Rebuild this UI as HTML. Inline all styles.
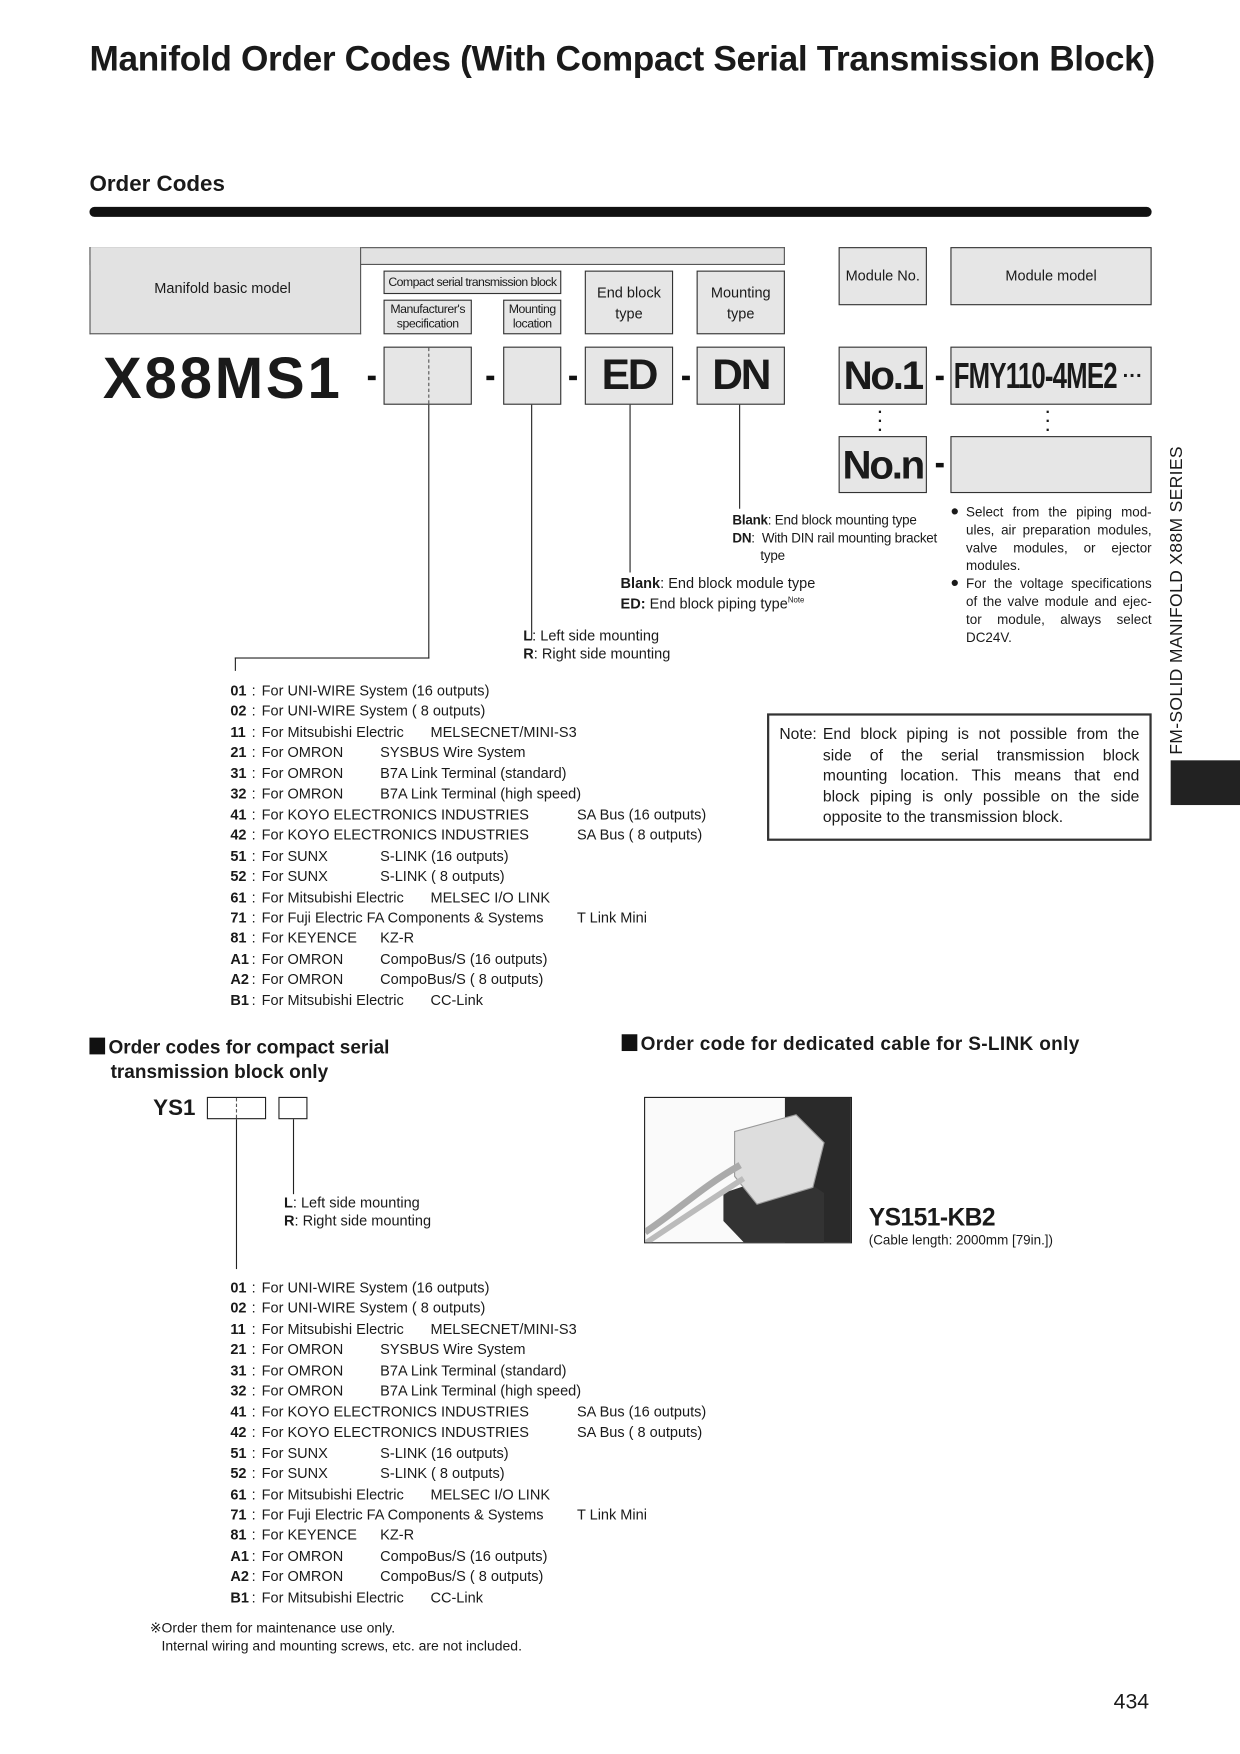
<!DOCTYPE html>
<html><head><meta charset="utf-8"><style>
html,body{margin:0;padding:0;background:#fff;}
body{width:1240px;height:1754px;overflow:hidden;position:relative;}
#c{position:absolute;left:0;top:0;width:1109px;height:1569px;transform:scale(1.11812);transform-origin:0 0;font-family:"Liberation Sans",sans-serif;color:#1a1a1a;}
.a{position:absolute;white-space:nowrap;}
.bx{position:absolute;background:#e6e6e6;border:1px solid #333;box-sizing:border-box;}
.c{display:flex;align-items:center;justify-content:center;text-align:center;}
.vl{position:absolute;width:0;border-left:1px solid #222;}
.hl{position:absolute;height:0;border-top:1px solid #222;}
.big{font-weight:bold;font-size:38px;letter-spacing:-2px;}
.dash{position:absolute;width:7px;height:4px;background:#111;}
.row{position:absolute;font-size:13px;white-space:nowrap;height:18px;}
.row span{position:absolute;top:0;}
.row b{position:absolute;left:0;}
.j{position:absolute;white-space:nowrap;text-align:justify;text-align-last:justify;}
</style></head><body><div id="c">

<div class="a" style="left:80px;top:34px;font-size:31.5px;font-weight:bold;letter-spacing:-0.3px;">Manifold Order Codes (With Compact Serial Transmission Block)</div>
<div class="a" style="left:80px;top:154px;font-size:20px;font-weight:bold;">Order Codes</div>
<div class="a" style="left:80px;top:185px;width:950px;height:9px;background:#111;border-radius:5px;"></div>

<div class="a" style="left:80px;top:221px;width:622px;height:16px;background:#e2e2e2;border:1px solid #555;border-bottom:none;box-sizing:border-box;"></div>
<div class="a" style="left:80px;top:221px;width:243px;height:78px;background:#e2e2e2;border:1px solid #555;border-top:none;box-sizing:border-box;"></div>
<div class="a" style="left:81px;top:222px;width:240px;height:20px;background:#e2e2e2;"></div>
<div class="a" style="left:322px;top:236px;width:380px;height:1px;background:#555;"></div>
<div class="a" style="left:138px;top:250px;font-size:13px;">Manifold basic model</div>

<div class="bx c" style="left:343px;top:242px;width:159px;height:21px;font-size:11px;letter-spacing:-0.5px;">Compact serial transmission block</div>
<div class="bx c" style="left:343px;top:268px;width:79px;height:31px;font-size:11px;line-height:13px;letter-spacing:-0.4px;">Manufacturer's<br>specification</div>
<div class="bx c" style="left:450px;top:268px;width:52px;height:31px;font-size:11px;line-height:13px;letter-spacing:-0.4px;">Mounting<br>location</div>
<div class="bx c" style="left:523px;top:242px;width:79px;height:57px;font-size:13px;line-height:19px;">End block<br>type</div>
<div class="bx c" style="left:623px;top:242px;width:79px;height:57px;font-size:13px;line-height:19px;">Mounting<br>type</div>
<div class="bx" style="left:750px;top:221px;width:79px;height:52px;font-size:13px;text-align:center;padding-top:17px;">Module No.</div>
<div class="bx" style="left:850px;top:221px;width:180px;height:52px;font-size:13px;text-align:center;padding-top:17px;">Module model</div>

<div class="a" style="left:92px;top:309px;font-size:52px;font-weight:bold;letter-spacing:2.5px;">X88MS1</div>
<div class="dash" style="left:329px;top:336px;"></div>
<div class="bx" style="left:343px;top:310px;width:79px;height:52px;"></div>
<div class="a" style="left:383px;top:311px;height:50px;border-left:1px dashed #555;"></div>
<div class="dash" style="left:435px;top:336px;"></div>
<div class="bx" style="left:450px;top:310px;width:52px;height:52px;"></div>
<div class="dash" style="left:509px;top:336px;"></div>
<div class="bx c big" style="left:523px;top:310px;width:79px;height:52px;">ED</div>
<div class="dash" style="left:610px;top:336px;"></div>
<div class="bx c big" style="left:623px;top:310px;width:79px;height:52px;">DN</div>
<div class="bx c big" style="left:750px;top:310px;width:79px;height:52px;font-size:36px;">No.1</div>
<div class="dash" style="left:837px;top:336px;"></div>
<div class="bx" style="left:850px;top:310px;width:180px;height:52px;"></div>
<div class="a" style="left:853px;top:318px;font-weight:bold;font-size:32px;letter-spacing:-1px;transform:scaleX(0.72);transform-origin:0 0;">FMY110-4ME2</div>
<div class="a" style="left:1004px;top:326px;font-size:18px;font-weight:bold;">···</div>
<div class="a" style="left:785px;top:364px;font-size:14px;line-height:8px;font-weight:bold;">·<br>·<br>·</div>
<div class="a" style="left:935px;top:364px;font-size:14px;line-height:8px;font-weight:bold;">·<br>·<br>·</div>
<div class="bx c big" style="left:750px;top:390px;width:79px;height:51px;font-size:36px;">No.n</div>
<div class="dash" style="left:837px;top:414px;"></div>
<div class="bx" style="left:850px;top:390px;width:180px;height:51px;"></div>

<div class="vl" style="left:383px;top:362px;height:227px;"></div>
<div class="hl" style="left:210px;top:588px;width:174px;"></div>
<div class="vl" style="left:210px;top:588px;height:12px;"></div>
<div class="vl" style="left:475px;top:362px;height:210px;"></div>
<div class="vl" style="left:563px;top:362px;height:150px;"></div>
<div class="vl" style="left:661px;top:362px;height:93px;"></div>

<div class="a" style="left:655px;top:457px;font-size:12px;line-height:16px;letter-spacing:-0.2px;"><b>Blank</b>: End block mounting type<br><b>DN</b>:&nbsp; With DIN rail mounting bracket<br>&nbsp;&nbsp;&nbsp;&nbsp;&nbsp;&nbsp;&nbsp;&nbsp;type</div>
<div class="a" style="left:555px;top:514px;font-size:13px;line-height:16px;"><b>Blank</b>: End block module type<br><b>ED:</b> End block piping type<sup style="font-size:7px;">Note</sup></div>
<div class="a" style="left:468px;top:561px;font-size:13px;line-height:16px;"><b>L</b>: Left side mounting<br><b>R</b>: Right side mounting</div>

<div class="a" style="left:850px;top:449px;font-size:13px;">●</div>
<div class="a" style="left:850px;top:513px;font-size:13px;">●</div>
<div style="position:absolute;left:864px;top:450px;width:166px;font-size:12px;line-height:16px;">
<div class="j" style="position:relative;width:166px;">Select from the piping mod-</div>
<div class="j" style="position:relative;width:166px;">ules, air preparation modules,</div>
<div class="j" style="position:relative;width:166px;">valve modules, or ejector</div>
<div style="position:relative;">modules.</div>
<div class="j" style="position:relative;width:166px;">For the voltage specifications</div>
<div class="j" style="position:relative;width:166px;">of the valve module and ejec-</div>
<div class="j" style="position:relative;width:166px;">tor module, always select</div>
<div style="position:relative;">DC24V.</div>
</div>

<div class="a" style="left:686px;top:638px;width:344px;height:114px;border:2px solid #333;box-sizing:border-box;"></div>
<div class="a" style="left:697px;top:647px;font-size:14px;line-height:18.5px;">Note:</div>
<div style="position:absolute;left:736px;top:647px;width:283px;font-size:14px;line-height:18.5px;">
<div class="j" style="position:relative;width:283px;">End block piping is not possible from the</div>
<div class="j" style="position:relative;width:283px;">side of the serial transmission block</div>
<div class="j" style="position:relative;width:283px;">mounting location. This means that end</div>
<div class="j" style="position:relative;width:283px;">block piping is only possible on the side</div>
<div style="position:relative;white-space:nowrap;">opposite to the transmission block.</div>
</div>

<div class="a" style="left:1044px;top:675px;font-size:16px;transform:rotate(-90deg) scaleX(0.98);transform-origin:0 0;letter-spacing:0.3px;">FM-SOLID MANIFOLD X88M SERIES</div>
<div class="a" style="left:1047px;top:680px;width:62px;height:40px;background:#222;"></div>

<div id="l1"></div>

<div class="a" style="left:80px;top:926px;font-size:17px;font-weight:bold;line-height:22px;"><span style="display:inline-block;width:14px;height:15px;background:#111;vertical-align:-1px;margin-right:3px;"></span>Order codes for compact serial<br>&nbsp;&nbsp;&nbsp;&nbsp;transmission block only</div>
<div class="a" style="left:556px;top:924px;font-size:17px;font-weight:bold;letter-spacing:0.3px;"><span style="display:inline-block;width:14px;height:15px;background:#111;vertical-align:-1px;margin-right:3px;"></span>Order code for dedicated cable for S-LINK only</div>

<div class="a" style="left:137px;top:980px;font-size:20px;font-weight:bold;">YS1</div>
<div class="a" style="left:185px;top:981px;width:53px;height:20px;border:1px solid #222;box-sizing:border-box;"></div>
<div class="a" style="left:211px;top:982px;height:18px;border-left:1px dashed #555;"></div>
<div class="a" style="left:249px;top:981px;width:26px;height:20px;border:1px solid #222;box-sizing:border-box;"></div>
<div class="vl" style="left:211px;top:1001px;height:134px;"></div>
<div class="vl" style="left:262px;top:1001px;height:67px;"></div>
<div class="a" style="left:254px;top:1068px;font-size:13px;line-height:16px;"><b>L</b>: Left side mounting<br><b>R</b>: Right side mounting</div>

<div class="a" style="left:576px;top:981px;width:186px;height:131px;border:1px solid #222;box-sizing:border-box;overflow:hidden;background:#fafafa;">
<svg width="186" height="131">
<rect x="125" y="0" width="61" height="131" fill="#2a2a2a"/>
<polygon points="70,85 130,65 160,85 160,131 90,131 70,110" fill="#333"/>
<polygon points="80,30 135,15 160,40 150,80 100,95 80,70" fill="#ddd" stroke="#999"/>
<path d="M0,120 C30,100 50,80 85,60" stroke="#aaa" stroke-width="6" fill="none"/>
<path d="M0,130 C30,110 60,90 88,72" stroke="#bbb" stroke-width="5" fill="none"/>
</svg></div>
<div class="a" style="left:777px;top:1076px;font-size:22px;font-weight:bold;letter-spacing:-0.5px;">YS151-KB2</div>
<div class="a" style="left:777px;top:1102px;font-size:12px;">(Cable length: 2000mm [79in.])</div>

<div id="l2"></div>

<div class="a" style="left:134px;top:1449px;font-size:12.5px;line-height:15.5px;">※Order them for maintenance use only.<br>&nbsp;&nbsp;&nbsp;Internal wiring and mounting screws, etc. are not included.</div>
<div class="a" style="left:996px;top:1512px;font-size:19px;">434</div>

<script>
var rows=[["01","For UNI-WIRE System (16 outputs)",0,""],["02","For UNI-WIRE System ( 8 outputs)",0,""],["11","For Mitsubishi Electric",385,"MELSECNET/MINI-S3"],["21","For OMRON",340,"SYSBUS Wire System"],["31","For OMRON",340,"B7A Link Terminal (standard)"],["32","For OMRON",340,"B7A Link Terminal (high speed)"],["41","For KOYO ELECTRONICS INDUSTRIES",516,"SA Bus (16 outputs)"],["42","For KOYO ELECTRONICS INDUSTRIES",516,"SA Bus ( 8 outputs)"],["51","For SUNX",340,"S-LINK (16 outputs)"],["52","For SUNX",340,"S-LINK ( 8 outputs)"],["61","For Mitsubishi Electric",385,"MELSEC I/O LINK"],["71","For Fuji Electric FA Components &amp; Systems",516,"T Link Mini"],["81","For KEYENCE",340,"KZ-R"],["A1","For OMRON",340,"CompoBus/S (16 outputs)"],["A2","For OMRON",340,"CompoBus/S ( 8 outputs)"],["B1","For Mitsubishi Electric",385,"CC-Link"]];
function build(id,y0){var h="";for(var i=0;i<rows.length;i++){var r=rows[i];var y=y0+i*18.45;h+='<div class="row" style="left:206px;top:'+y+'px;width:500px;"><b>'+r[0]+'</b><span style="left:19px">:</span><span style="left:28px">'+r[1]+'</span>'+(r[3]?'<span style="left:'+(r[2]-206)+'px">'+r[3]+'</span>':'')+'</div>';}document.getElementById(id).outerHTML=h;}
build("l1",610);build("l2",1144);
</script>
</div></body></html>
